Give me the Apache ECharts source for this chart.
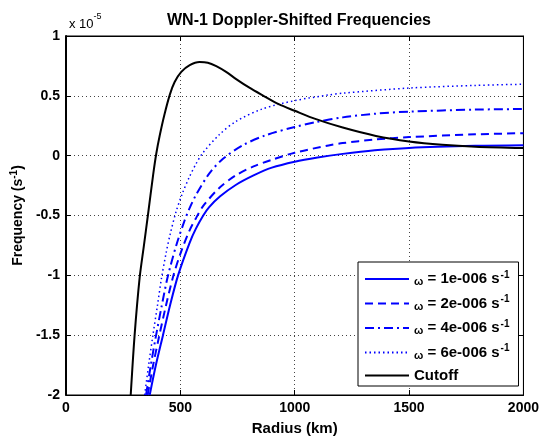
<!DOCTYPE html>
<html>
<head>
<meta charset="utf-8">
<script src="https://cdn.jsdelivr.net/npm/echarts@6/dist/echarts.min.js"></script>
<style>html,body{margin:0;padding:0;background:#fff}#c{width:542px;height:441px}</style>
</head>
<body>
<div id="c"></div>
<script>
// Values in units of 1e-5 s^-1 ; radius in km
const xTicks = [0, 500, 1000, 1500, 2000];
const yTicks = [-2, -1.5, -1, -0.5, 0, 0.5, 1];
const seriesNames = ['ω = 1e-006 s-1', 'ω = 2e-006 s-1', 'ω = 4e-006 s-1', 'ω = 6e-006 s-1', 'Cutoff'];

const omega1 = [[366,-2],[393,-1.75],[424,-1.5],[455,-1.25],[490,-1.0],[540,-0.73],[568,-0.61],[600,-0.5],[626,-0.43],[674,-0.34],[742,-0.245],[820,-0.165],[900,-0.1],[1000,-0.05],[1100,-0.015],[1210,0.015],[1350,0.045],[1500,0.065],[1790,0.082],[2000,0.087]];
const omega2 = [[357,-2],[380,-1.76],[406,-1.52],[435,-1.27],[467,-1.02],[500,-0.82],[539,-0.63],[569,-0.52],[600,-0.42],[670,-0.27],[742,-0.165],[820,-0.09],[900,-0.035],[1000,0.025],[1148,0.085],[1210,0.105],[1350,0.135],[1500,0.155],[1790,0.178],[2000,0.188]];
const omega4 = [[350,-2],[370,-1.76],[392,-1.52],[418,-1.26],[445,-1.01],[482,-0.75],[517,-0.55],[540,-0.44],[568,-0.33],[626,-0.15],[684,-0.03],[771,0.085],[872,0.17],[1000,0.24],[1093,0.28],[1210,0.32],[1350,0.35],[1500,0.368],[1790,0.385],[2000,0.39]];
const omega6 = [[344,-2],[362,-1.74],[380,-1.5],[400,-1.25],[417,-1.03],[438,-0.81],[455,-0.66],[481,-0.47],[510,-0.31],[539,-0.18],[568,-0.07],[597,0.02],[670,0.175],[742,0.285],[858,0.39],[1000,0.46],[1148,0.507],[1210,0.522],[1500,0.565],[1790,0.587],[2000,0.597]];
const cutoff = [[283,-2],[300,-1.5],[322,-1.02],[340,-0.76],[358,-0.5],[381,-0.16],[395,0.02],[410,0.17],[430,0.34],[454,0.51],[475,0.615],[504,0.7],[541,0.757],[584,0.783],[620,0.777],[657,0.748],[700,0.7],[744,0.64],[800,0.57],[858,0.506],[930,0.43],[1000,0.375],[1093,0.305],[1210,0.235],[1355,0.165],[1500,0.119],[1645,0.091],[1790,0.075],[2000,0.064]];

const FONT = 'Liberation Sans, Arial, sans-serif';
const chart = echarts.init(document.getElementById('c'), null, {renderer: 'canvas'});

function lineSeries(name, data, color, width, type) {
  return {
    name: name, type: 'line', data: data, showSymbol: false, symbol: 'none',
    smooth: 0.3, clip: true,
    lineStyle: {color: color, width: width, type: type},
    itemStyle: {color: color}
  };
}

const axisCommonX = {type: 'value', min: xTicks[0], max: xTicks[xTicks.length-1], interval: 500};
const axisCommonY = {type: 'value', min: yTicks[0], max: yTicks[yTicks.length-1], interval: 0.5};

chart.setOption({
  animation: false,
  backgroundColor: '#fff',
  title: [
    {text: 'WN-1 Doppler-Shifted Frequencies', left: 294, textAlign: 'center', top: 8,
     textStyle: {fontFamily: FONT, fontSize: 16, fontWeight: 'bold', color: '#000'}},
    {text: '{a|x 10}{b|-5}', left: 64, top: 7,
     textStyle: {rich: {
       a: {fontFamily: FONT, fontSize: 13, fontWeight: 'normal', color: '#000', padding: [6,0,0,0]},
       b: {fontFamily: FONT, fontSize: 9, fontWeight: 'normal', color: '#000', verticalAlign: 'top'}
     }}}
  ],
  grid: {left: 66, right: 17, top: 36, bottom: 42, show: true, borderColor: '#000', borderWidth: 1, containLabel: false},
  legend: {
    orient: 'vertical', left: 358, top: 262,
    data: seriesNames,
    itemWidth: 44, itemHeight: 14, itemGap: 7,
    padding: [8, 9, 3, 6],
    backgroundColor: '#fff', borderColor: '#000', borderWidth: 1, borderRadius: 0,
    itemStyle: {opacity: 0, borderWidth: 0},
    formatter: function (n) {
      if (n === 'Cutoff') return '{c|Cutoff}';
      const m = n.match(/= (\S+) s/);
      return '{w|ω}{c| = ' + m[1] + ' s}{s|-1}';
    },
    textStyle: {
      fontFamily: FONT, fontWeight: 'bold', fontSize: 15, color: '#000',
      rich: {
        c: {fontFamily: FONT, fontWeight: 'bold', fontSize: 15, color: '#000', lineHeight: 17},
        w: {fontFamily: FONT, fontWeight: 'bold', fontSize: 11, color: '#000', padding: [6, 0, 0, 0]},
        s: {fontFamily: FONT, fontWeight: 'bold', fontSize: 10, color: '#000', padding: [0, 0, 8, 1]}
      }
    }
  },
  xAxis: [
    Object.assign({}, axisCommonX, {
      position: 'bottom',
      name: 'Radius (km)', nameLocation: 'middle', nameGap: 26,
      nameTextStyle: {fontFamily: FONT, fontSize: 15, fontWeight: 'bold', color: '#000'},
      axisLine: {show: true, onZero: false, lineStyle: {color: '#000', width: 1}},
      axisTick: {show: true, inside: true, length: 5, lineStyle: {color: '#000'}},
      axisLabel: {fontFamily: FONT, fontSize: 14, fontWeight: 'bold', color: '#000', margin: 6,
        formatter: function (v) { return String(v); }},
      splitLine: {show: true, lineStyle: {color: '#444', width: 1, type: [1, 3]}}
    }),
    Object.assign({}, axisCommonX, {
      position: 'top',
      axisLine: {show: true, onZero: false, lineStyle: {color: '#000', width: 1}},
      axisTick: {show: true, inside: true, length: 5, lineStyle: {color: '#000'}},
      axisLabel: {show: false}, splitLine: {show: false}
    })
  ],
  yAxis: [
    Object.assign({}, axisCommonY, {
      position: 'left',
      name: '{a|Frequency (s}{b|-1}{a|)}', nameLocation: 'middle', nameGap: 37, nameRotate: 90,
      nameTextStyle: {rich: {
        a: {fontFamily: FONT, fontSize: 14, fontWeight: 'bold', color: '#000'},
        b: {fontFamily: FONT, fontSize: 10, fontWeight: 'bold', color: '#000', padding: [0, 0, 7, 0]}
      }},
      axisLine: {show: true, onZero: false, lineStyle: {color: '#000', width: 2}},
      axisTick: {show: true, inside: true, length: 5, lineStyle: {color: '#000'}},
      axisLabel: {fontFamily: FONT, fontSize: 14, fontWeight: 'bold', color: '#000', margin: 6,
        formatter: function (v) { return String(v); }},
      splitLine: {show: true, lineStyle: {color: '#444', width: 1, type: [1, 3]}}
    }),
    Object.assign({}, axisCommonY, {
      position: 'right',
      axisLine: {show: true, onZero: false, lineStyle: {color: '#000', width: 1}},
      axisTick: {show: true, inside: true, length: 5, lineStyle: {color: '#000'}},
      axisLabel: {show: false}, splitLine: {show: false}
    })
  ],
  series: [
    lineSeries(seriesNames[0], omega1, '#0000ff', 2, 'solid'),
    lineSeries(seriesNames[1], omega2, '#0000ff', 2, [8, 5]),
    lineSeries(seriesNames[2], omega4, '#0000ff', 2, [9, 4, 2, 4]),
    lineSeries(seriesNames[3], omega6, '#0000ff', 1.5, [1.5, 3]),
    lineSeries(seriesNames[4], cutoff, '#000000', 2, 'solid')
  ]
});
</script>
</body>
</html>
